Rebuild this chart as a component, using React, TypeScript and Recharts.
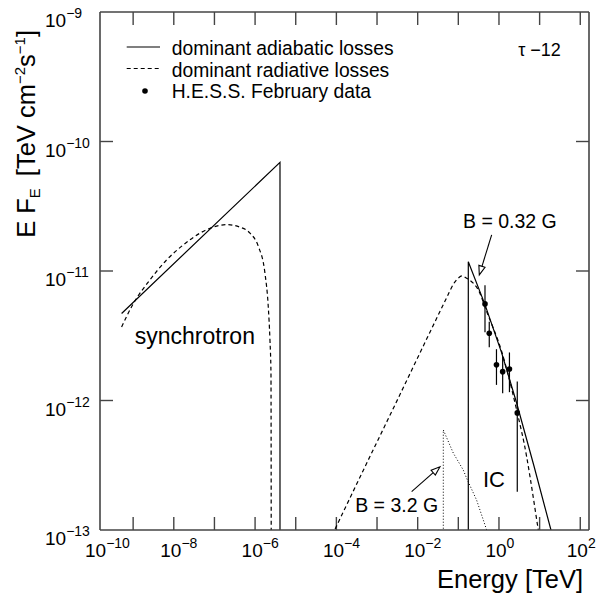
import React from 'react';
import { ComposedChart, Line, Scatter, ErrorBar, XAxis, YAxis, ReferenceLine, ReferenceDot, Legend } from 'recharts';

const FONT = '"Liberation Sans", Arial, Helvetica, sans-serif';
const INK = '#000';
const FRAME = '#444';
const W = 610;
const H = 594;
const MARGIN = { top: 12, right: 21, bottom: 64, left: 100 };
const PLOT_BOTTOM = H - MARGIN.bottom;
const PLOT_RIGHT = W - MARGIN.right;
const TICK = 13;

// axis ranges: energy in TeV, E F_E in TeV cm^-2 s^-1
const energyRange = [1.53e-10, 164];
const fluxRange = [1e-13, 1e-9];
const energyDecades = [1e-9, 1e-8, 1e-7, 1e-6, 1e-5, 1e-4, 1e-3, 1e-2, 1e-1, 1, 10, 100];
const energyLabels = [1e-10, 1e-8, 1e-6, 1e-4, 1e-2, 1, 100];
const fluxDecades = [1e-13, 1e-12, 1e-11, 1e-10, 1e-9];
const fluxInnerDecades = [1e-12, 1e-11, 1e-10];

// synchrotron, dominant adiabatic losses
const syncAdiabaticE = [5.2e-10, 4.1e-6, 4.1e-6];
const syncAdiabaticF = [4.7e-12, 6.9e-11, 3e-14];

// synchrotron, dominant radiative losses
const syncRadiativeE = [5.2e-10, 1.01e-9, 2.6e-9, 6.7e-9, 1.71e-8, 4.4e-8, 7.8e-8, 2.0e-7, 4.25e-7, 7.5e-7, 1.2e-6, 1.75e-6, 2.11e-6, 2.32e-6, 2.46e-6, 2.48e-6, 2.5e-6];
const syncRadiativeF = [3.7e-12, 5.6e-12, 8.55e-12, 1.22e-11, 1.59e-11, 1.96e-11, 2.14e-11, 2.28e-11, 2.18e-11, 1.96e-11, 1.55e-11, 9.6e-12, 5.3e-12, 2.94e-12, 1.63e-12, 5e-13, 3e-14];

// inverse Compton, dominant adiabatic losses (B = 0.32 G)
const icAdiabaticE = [0.176, 0.176, 0.453, 1.165, 2.72, 7.26, 19.0, 29.9];
const icAdiabaticF = [3e-14, 1.18e-11, 5.5e-12, 2.33e-12, 9.57e-13, 3.12e-13, 1e-13, 5.86e-14];

// inverse Compton, dominant radiative losses
const icRadiativeE = [3.95e-5, 4.64e-4, 2.88e-3, 1.95e-2, 5.32e-2, 7.6e-2, 9.8e-2, 0.123, 0.16, 0.233, 0.31, 0.498, 1.165, 2.72, 4.8, 5.8, 9.27, 12.1];
const icRadiativeF = [5.8e-14, 2.91e-13, 9.5e-13, 3.31e-12, 6.34e-12, 7.94e-12, 8.77e-12, 9.16e-12, 8.8e-12, 8.05e-12, 7.15e-12, 4.86e-12, 2.39e-12, 8.45e-13, 3.68e-13, 2.58e-13, 1e-13, 5.9e-14];

// inverse Compton, B = 3.2 G
const icStrongBE = [0.0427, 0.0427, 0.0751, 0.132, 0.16, 0.282, 0.498, 0.6];
const icStrongBF = [3e-14, 5.93e-13, 3.93e-13, 2.91e-13, 2.51e-13, 1.7e-13, 1e-13, 7.7e-14];

// H.E.S.S. February data
const hessE = [0.453, 0.577, 0.868, 1.233, 1.81, 2.82];
const hessF = [5.57e-12, 3.31e-12, 1.89e-12, 1.67e-12, 1.75e-12, 8.02e-13];
const hessHigh = [7.76e-12, 4.05e-12, 2.49e-12, 2.21e-12, 2.35e-12, 1.4e-12];
const hessLow = [3.36e-12, 2.58e-12, 1.32e-12, 1.14e-12, 1.16e-12, 1.97e-13];

const zip = (xs: number[], ys: number[]) => xs.map((x, i) => ({ x, y: ys[i] }));
const hessData = hessE.map((x, i) => ({ x, y: hessF[i], err: [hessF[i] - hessLow[i], hessHigh[i] - hessF[i]] }));

const legendItems = [
  { label: 'dominant adiabatic losses', kind: 'solid' },
  { label: 'dominant radiative losses', kind: 'dashed' },
  { label: 'H.E.S.S. February data', kind: 'dot' },
];

const expText = (v: number) => {
  const e = Math.round(Math.log10(v));
  return e < 0 ? `\u2212${-e}` : `${e}`;
};

function EnergyTick(props: any) {
  const { x, payload } = props;
  const shift = Math.round(Math.log10(payload.value)) === -10 ? 6 : 0;
  return (
    <text x={x - 13.5 + shift} y={PLOT_BOTTOM + 27} fontFamily={FONT} fontSize={19} fill={INK}>
      10<tspan dy={-9} fontSize={14}>{expText(payload.value)}</tspan>
    </text>
  );
}

function FluxTick(props: any) {
  const { payload } = props;
  return (
    <text x={MARGIN.left - 55} y={payload.coordinate + 15} fontFamily={FONT} fontSize={19} fill={INK}>
      10<tspan dy={-9} fontSize={14}>{expText(payload.value)}</tspan>
    </text>
  );
}

// inward frame ticks at both ends of a decade reference line
function XFrameTick(p: any) {
  const top = Math.min(p.y1, p.y2);
  const bot = Math.max(p.y1, p.y2);
  return (
    <g stroke={FRAME} strokeWidth={1.4}>
      <line x1={p.x1} x2={p.x1} y1={top} y2={top + TICK} />
      <line x1={p.x1} x2={p.x1} y1={bot - TICK} y2={bot} />
    </g>
  );
}

function YFrameTick(p: any) {
  const left = Math.min(p.x1, p.x2);
  const right = Math.max(p.x1, p.x2);
  return (
    <g stroke={FRAME} strokeWidth={1.4}>
      <line x1={left} x2={left + TICK} y1={p.y1} y2={p.y1} />
      <line x1={right - TICK} x2={right} y1={p.y1} y2={p.y1} />
    </g>
  );
}

function LegendBox() {
  return (
    <svg width={300} height={72} style={{ display: 'block' }}>
      {legendItems.map((it, i) => {
        const base = 19 + i * 21.5;
        return (
          <g key={it.label}>
            {it.kind === 'dot' ? (
              <circle cx={25} cy={base - 7} r={2.8} fill={INK} />
            ) : (
              <line x1={6.7} x2={40} y1={base - 8} y2={base - 8} stroke={INK} strokeWidth={1.2}
                strokeDasharray={it.kind === 'dashed' ? '4 3' : undefined} />
            )}
            <text x={51.7} y={base} fontFamily={FONT} fontSize={19.3} fill={INK}>{it.label}</text>
          </g>
        );
      })}
    </svg>
  );
}

function Arrow(props: any) {
  const { x1, y1, x2, y2 } = props;
  const a = Math.atan2(y2 - y1, x2 - x1);
  const len = 9;
  const half = 3.2;
  const bx = x2 - len * Math.cos(a);
  const by = y2 - len * Math.sin(a);
  const px = -Math.sin(a) * half;
  const py = Math.cos(a) * half;
  return (
    <g>
      <line x1={x1} y1={y1} x2={bx} y2={by} stroke={INK} strokeWidth={1.1} />
      <polygon points={`${x2},${y2} ${bx + px},${by + py} ${bx - px},${by - py}`} fill="#fff" stroke={INK} strokeWidth={1.1} />
    </g>
  );
}

const textShape = (label: string, size: number, anchor: string) => (p: any) => (
  <text x={p.cx} y={p.cy} textAnchor={anchor} fontFamily={FONT} fontSize={size} fill={INK}>{label}</text>
);

export default function App() {
  const lineProps = { xAxisId: 'b', yAxisId: 'l', dataKey: 'y', dot: false, activeDot: false, isAnimationActive: false, stroke: INK, strokeWidth: 1.2 } as any;
  const frameAxis = { stroke: FRAME, strokeWidth: 1.6 };
  return (
    <div style={{ position: 'absolute', left: 0, top: 0, width: W, height: H, background: '#fff' }}>
      <ComposedChart width={W} height={H} margin={MARGIN}>
        <XAxis xAxisId="b" type="number" dataKey="x" scale="log" domain={energyRange} allowDataOverflow
          orientation="bottom" mirror ticks={energyLabels} interval={0} tickLine={false}
          tick={<EnergyTick />} axisLine={frameAxis}
          label={{
            content: () => (
              <text x={PLOT_RIGHT - 6} y={PLOT_BOTTOM + 58} textAnchor="end" fontFamily={FONT} fontSize={25.5} fill={INK}>Energy [TeV]</text>
            ),
          }} />
        <XAxis xAxisId="t" type="number" scale="log" domain={energyRange} allowDataOverflow
          orientation="top" mirror ticks={energyDecades} tick={false} tickLine={false} axisLine={frameAxis} />
        <YAxis yAxisId="l" type="number" scale="log" domain={fluxRange} allowDataOverflow
          orientation="left" mirror ticks={fluxDecades} interval={0} tickLine={false}
          tick={<FluxTick />} axisLine={frameAxis}
          label={{
            content: () => (
              <text transform={`rotate(-90, 35, 30)`} x={35} y={30} textAnchor="end" fontFamily={FONT} fontSize={25.5} fill={INK}>
                E F<tspan fontSize={15} dy={5}>E</tspan>
                <tspan dy={-5} dx={12}>[TeV cm</tspan>
                <tspan fontSize={15} dy={-10}>{'\u22122'}</tspan>
                <tspan dy={10}>s</tspan>
                <tspan fontSize={15} dy={-10}>{'\u22121'}</tspan>
                <tspan dy={10}>]</tspan>
              </text>
            ),
          }} />
        <YAxis yAxisId="r" type="number" scale="log" domain={fluxRange} allowDataOverflow
          orientation="right" mirror ticks={fluxDecades} tick={false} tickLine={false} axisLine={frameAxis} />

        {energyDecades.map((v) => (
          <ReferenceLine key={`xt${v}`} xAxisId="b" yAxisId="l" x={v} shape={XFrameTick} />
        ))}
        {fluxInnerDecades.map((v) => (
          <ReferenceLine key={`yt${v}`} xAxisId="b" yAxisId="l" y={v} shape={YFrameTick} />
        ))}

        <Legend layout="vertical" align="center" verticalAlign="middle" content={() => <LegendBox />}
          wrapperStyle={{ position: 'absolute', left: 120, top: 36, width: 300, height: 72 }} />

        <Line {...lineProps} data={zip(syncAdiabaticE, syncAdiabaticF)} type="linear" />
        <Line {...lineProps} data={zip(syncRadiativeE, syncRadiativeF)} type="monotone" strokeDasharray="4 3" />
        <Line {...lineProps} data={zip(icAdiabaticE, icAdiabaticF)} type="linear" />
        <Line {...lineProps} data={zip(icRadiativeE, icRadiativeF)} type="monotone" strokeDasharray="4 3" />
        <Line {...lineProps} data={zip(icStrongBE, icStrongBF)} type="linear" strokeDasharray="1 2" strokeWidth={1} />

        <Scatter xAxisId="b" yAxisId="l" data={hessData} dataKey="y" isAnimationActive={false}
          shape={(p: any) => <circle cx={p.cx} cy={p.cy} r={2.8} fill={INK} />}>
          <ErrorBar dataKey="err" direction="y" width={0} stroke={INK} strokeWidth={1.2} />
        </Scatter>

        <ReferenceLine xAxisId="b" yAxisId="l" segment={[{ x: 0.661, y: 1.9e-11 }, { x: 0.328, y: 9.33e-12 }]} shape={Arrow} />
        <ReferenceLine xAxisId="b" yAxisId="l" segment={[{ x: 7.11e-3, y: 1.98e-13 }, { x: 3.54e-2, y: 3.08e-13 }]} shape={Arrow} />

        <ReferenceDot xAxisId="b" yAxisId="l" x={3.3e-8} y={2.74e-12} shape={textShape('synchrotron', 23, 'middle')} />
        <ReferenceDot xAxisId="b" yAxisId="l" x={0.753} y={2.14e-13} shape={textShape('IC', 22, 'middle')} />
        <ReferenceDot xAxisId="b" yAxisId="l" x={3.04e-3} y={1.38e-13} shape={textShape('B = 3.2 G', 19.5, 'middle')} />
        <ReferenceDot xAxisId="b" yAxisId="l" x={0.13} y={2.15e-11} shape={textShape('B = 0.32 G', 19.5, 'start')} />
        <ReferenceDot xAxisId="b" yAxisId="l" x={2.98} y={4.59e-10} shape={textShape('\u03c4 \u221212', 18, 'start')} />
      </ComposedChart>
    </div>
  );
}
